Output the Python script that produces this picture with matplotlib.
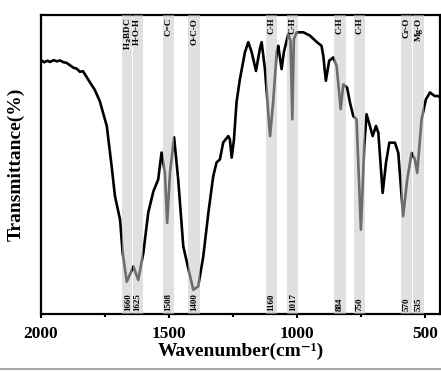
import numpy as np
import matplotlib
matplotlib.use("Agg")
import matplotlib.pyplot as plt
from matplotlib.lines import Line2D

# spectrum (wavenumber in cm-1, transmittance in arbitrary %)
wn = [2000, 1988, 1975, 1965, 1950, 1938, 1926, 1912, 1900, 1887, 1874, 1860,
      1848, 1836, 1822, 1809, 1790, 1770, 1743, 1724, 1711, 1691, 1681, 1665,
      1639, 1620, 1600, 1581, 1561, 1542, 1529, 1516, 1507, 1496, 1480, 1464,
      1444, 1425, 1405, 1386, 1366, 1346, 1327, 1314, 1301, 1288, 1268, 1262,
      1255, 1246, 1236, 1223, 1203, 1190, 1177, 1160, 1145, 1138, 1125, 1105,
      1093, 1079, 1073, 1060, 1051, 1034, 1025, 1018, 1012, 1001, 975, 949,
      923, 904, 897, 887, 874, 858, 845, 829, 819, 804, 793, 780, 767, 750,
      737, 728, 715, 704, 691, 682, 665, 652, 639, 617, 604, 585, 569, 552,
      539, 530, 513, 496, 480, 470, 461, 448, 441]
trans = [84.9, 84.2, 84.7, 84.3, 84.9, 84.5, 84.8, 84.2, 84.0, 83.2, 82.4, 82.0,
         81.0, 81.2, 79.3, 77.5, 75.0, 71.1, 62.9, 49.4, 39.4, 31.5, 20.5, 10.8,
         15.9, 11.4, 20.5, 33.9, 41.0, 45.0, 54.0, 47.3, 30.5, 47.3, 59.1, 45.0,
         22.6, 15.4, 8.1, 9.2, 19.2, 33.9, 46.1, 50.7, 51.7, 57.4, 59.5, 58.4,
         52.3, 58.4, 70.8, 78.5, 87.6, 90.9, 87.6, 81.3, 88.6, 90.9, 81.9, 59.5,
         70.8, 87.6, 89.7, 81.9, 87.6, 93.6, 91.4, 65.1, 91.9, 94.2, 94.2, 93.1,
         91.0, 89.7, 86.3, 78.0, 84.7, 85.8, 83.0, 68.5, 76.8, 75.7, 70.8, 66.2,
         65.1, 28.2, 56.1, 66.8, 62.9, 59.5, 62.9, 60.6, 40.5, 50.6, 57.3, 57.3,
         53.9, 32.7, 45.0, 53.9, 51.7, 47.2, 65.1, 71.8, 74.1, 73.4, 72.9, 72.9,
         72.5]

# assignment bands
band_pos = [1660, 1625, 1503, 1402, 1100, 1016, 832, 756, 573, 525]
band_top = ["H$_2$BDC", "H-O-H", "C=C", "O-C-O", "C-H", "C-H", "C-H", "C-H",
            "Cr-O", "Mg-O"]
band_bottom = ["1660", "1625", "1508", "1400", "1160", "1017", "884", "750",
               "570", "535"]

plt.rcParams["font.family"] = ["Liberation Serif", "DejaVu Serif"]
plt.rcParams["font.weight"] = "bold"

fig = plt.figure(figsize=(4.41, 3.71), dpi=100)
ax = fig.add_axes([41 / 441, 57 / 371, 399 / 441, 299 / 371])

ax.plot(wn, trans, color="black", lw=1.9, zorder=2)

half = 22
for i, (p, t, b) in enumerate(zip(band_pos, band_top, band_bottom)):
    hi, lo = p + half, p - half
    # neighbouring bands touch but do not overlap
    if i > 0 and band_pos[i - 1] - p < 2 * half:
        hi = (band_pos[i - 1] + p) / 2 - 1.5
    if i < len(band_pos) - 1 and p - band_pos[i + 1] < 2 * half:
        lo = (band_pos[i + 1] + p) / 2 + 1.5
    ax.axvspan(lo, hi, color="#c8c8c8", alpha=0.55, lw=0, zorder=3)
    ax.text(p, 99, t, rotation=90, ha="center", va="top", fontsize=6.5,
            fontweight="bold", zorder=4)
    ax.text(p, 1, b, rotation=90, ha="center", va="bottom", fontsize=6.5,
            fontweight="bold", zorder=4)

ax.set_xlim(2000, 441)
ax.set_ylim(0, 100)
ax.set_xticks([2000, 1500, 1000, 500])
ax.set_xticks([1750, 1250, 750], minor=True)
ax.set_yticks([])
ax.tick_params(axis="x", which="major", direction="out", length=3, width=1.5,
               labelsize=12.5, pad=6)
ax.tick_params(axis="x", which="minor", direction="out", length=2, width=1.5)
for lab in ax.get_xticklabels():
    lab.set_fontweight("bold")
for s in ax.spines.values():
    s.set_linewidth(1.6)

ax.set_xlabel("Wavenumber(cm\u207b\u00b9)", fontsize=14, fontweight="bold",
              labelpad=0)
ax.set_ylabel("Transmittance(%)", fontsize=14, fontweight="bold", labelpad=12)

# thin grey border at the bottom of the image
fig.add_artist(Line2D([0, 1], [2.5 / 371, 2.5 / 371], color="#9a9a9a", lw=1.2,
                      transform=fig.transFigure))

fig.savefig("out.png", dpi=100)
